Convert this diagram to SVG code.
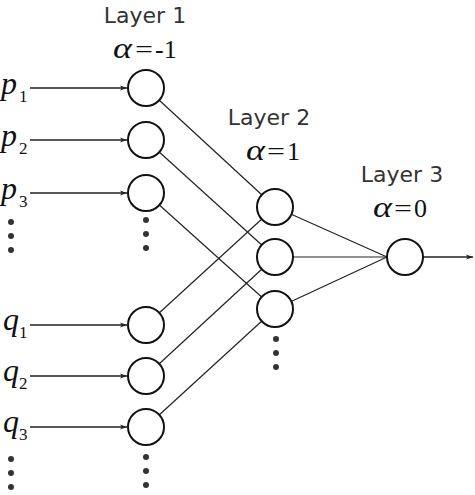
<svg xmlns="http://www.w3.org/2000/svg" width="475" height="495" viewBox="0 0 475 495">
  <style>
    .node { fill: #fff; stroke: #111; stroke-width: 2; }
    .edge { stroke: #222; stroke-width: 1.2; fill: none; }
    .arrow { stroke: #222; stroke-width: 1.4; fill: none; marker-end: url(#head); }
    .dot { fill: #333; }
    .layer { font-family: "DejaVu Sans", sans-serif; font-size: 22px; fill: #333; text-anchor: middle; }
    .math { font-family: "Liberation Serif", serif; font-size: 26px; fill: #111; }
    .greek { font-family: "Liberation Serif", serif; font-size: 30px; font-style: italic; fill: #111; }
    .var { font-family: "Liberation Serif", serif; font-size: 32px; font-style: italic; fill: #111; }
    .sub { font-family: "Liberation Serif", serif; font-size: 17px; fill: #111; }
  </style>
  <defs>
    <marker id="head" viewBox="0 0 10 10" refX="10" refY="5" markerWidth="7" markerHeight="7" markerUnits="userSpaceOnUse" orient="auto">
      <path d="M0,1.5 L10,5 L0,8.5 L2.5,5 Z" fill="#222"/>
    </marker>
  </defs>

  <rect width="475" height="495" fill="#fff"/>

  <!-- layer 1 heading -->
  <text class="layer" x="145" y="23">Layer 1</text>
  <text class="greek" x="113" y="58" textLength="19" lengthAdjust="spacingAndGlyphs">α</text>
  <text class="math" x="135" y="58" textLength="18" lengthAdjust="spacingAndGlyphs">=</text>
  <text class="math" x="155" y="58">-1</text>

  <!-- layer 2 heading -->
  <text class="layer" x="269" y="125">Layer 2</text>
  <text class="greek" x="246" y="160" textLength="19" lengthAdjust="spacingAndGlyphs">α</text>
  <text class="math" x="267" y="160" textLength="18" lengthAdjust="spacingAndGlyphs">=</text>
  <text class="math" x="287" y="160">1</text>

  <!-- layer 3 heading -->
  <text class="layer" x="402" y="182">Layer 3</text>
  <text class="greek" x="373" y="217" textLength="19" lengthAdjust="spacingAndGlyphs">α</text>
  <text class="math" x="394" y="217" textLength="18" lengthAdjust="spacingAndGlyphs">=</text>
  <text class="math" x="414" y="217">0</text>

  <!-- input labels -->
  <text class="var" x="1" y="94">p</text><text class="sub" x="19" y="102">1</text>
  <text class="var" x="1" y="146">p</text><text class="sub" x="19" y="154">2</text>
  <text class="var" x="1" y="199">p</text><text class="sub" x="19" y="207">3</text>
  <text class="var" x="3" y="330">q</text><text class="sub" x="19" y="338">1</text>
  <text class="var" x="3" y="381">q</text><text class="sub" x="19" y="389">2</text>
  <text class="var" x="3" y="432">q</text><text class="sub" x="19" y="440">3</text>

  <g id="connectors">
    <!-- inputs -->
    <line class="arrow" x1="30" y1="88" x2="127" y2="88"/>
    <line class="arrow" x1="30" y1="140" x2="127" y2="140"/>
    <line class="arrow" x1="30" y1="193" x2="127" y2="193"/>
    <line class="arrow" x1="30" y1="325" x2="127" y2="325"/>
    <line class="arrow" x1="30" y1="376" x2="127" y2="376"/>
    <line class="arrow" x1="30" y1="427" x2="127" y2="427"/>
    <!-- layer 1 to layer 2 -->
    <line class="edge" x1="146" y1="88" x2="275" y2="207"/>
    <line class="edge" x1="146" y1="140" x2="275" y2="257"/>
    <line class="edge" x1="146" y1="193" x2="275" y2="309"/>
    <line class="edge" x1="146" y1="325" x2="275" y2="207"/>
    <line class="edge" x1="146" y1="376" x2="275" y2="257"/>
    <line class="edge" x1="146" y1="427" x2="275" y2="309"/>
    <!-- layer 2 to layer 3 -->
    <line class="edge" x1="275" y1="207" x2="387" y2="257"/>
    <line class="edge" x1="275" y1="257" x2="387" y2="257"/>
    <line class="edge" x1="275" y1="309" x2="387" y2="257"/>
    <!-- output -->
    <line class="arrow" x1="423" y1="257" x2="473" y2="257"/>
  </g>

  <g id="layer1">
    <circle class="node" cx="146" cy="88" r="18"/>
    <circle class="node" cx="146" cy="140" r="18"/>
    <circle class="node" cx="146" cy="193" r="18"/>
    <circle class="node" cx="146" cy="325" r="18"/>
    <circle class="node" cx="146" cy="376" r="18"/>
    <circle class="node" cx="146" cy="427" r="18"/>
  </g>
  <g id="layer2">
    <circle class="node" cx="275" cy="207" r="18"/>
    <circle class="node" cx="275" cy="257" r="18"/>
    <circle class="node" cx="275" cy="309" r="18"/>
  </g>
  <g id="layer3">
    <circle class="node" cx="405" cy="257" r="18"/>
  </g>

  <!-- ellipses -->
  <g id="dots">
    <circle class="dot" cx="11" cy="222" r="3"/>
    <circle class="dot" cx="11" cy="236" r="3"/>
    <circle class="dot" cx="11" cy="250" r="3"/>
    <circle class="dot" cx="146" cy="220" r="3"/>
    <circle class="dot" cx="146" cy="234" r="3"/>
    <circle class="dot" cx="146" cy="248" r="3"/>
    <circle class="dot" cx="11" cy="459" r="3"/>
    <circle class="dot" cx="11" cy="473" r="3"/>
    <circle class="dot" cx="11" cy="487" r="3"/>
    <circle class="dot" cx="146" cy="457" r="3"/>
    <circle class="dot" cx="146" cy="471" r="3"/>
    <circle class="dot" cx="146" cy="485" r="3"/>
    <circle class="dot" cx="276" cy="339" r="3"/>
    <circle class="dot" cx="276" cy="353" r="3"/>
    <circle class="dot" cx="276" cy="367" r="3"/>
  </g>
</svg>
